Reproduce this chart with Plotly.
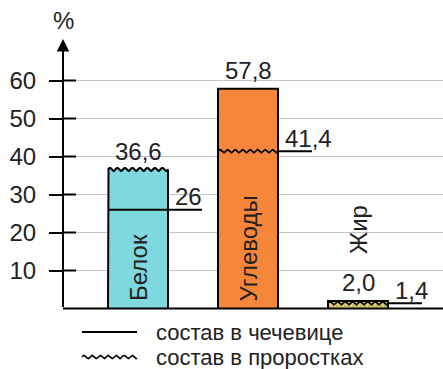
import numpy as np
import plotly.graph_objects as go

# Composition of lentils vs. lentil sprouts, %
categories = ["Белок", "Углеводы", "Жир"]
lentil = [26.0, 57.8, 2.0]        # состав в чечевице (straight line)
sprouts = [36.6, 41.4, 1.4]       # состав в проростках (wavy line)
lentil_decimals = [0, 1, 1]
sprouts_decimals = [1, 1, 1]
y_ticks = [10, 20, 30, 40, 50, 60]
bar_colors = ["#7fd8de", "#f5863a", "#e4d676"]

legend_labels = ["состав в чечевице", "состав в проростках"]

FONT = "Liberation Sans, Arial, sans-serif"
TXT = "#222222"
FS = 24
FS_LEG = 22

# pixel geometry helpers
W, H = 443, 369
ML = 63
PX_X = 110.0      # pixels per category step
PX_Y = 3.8        # pixels per percent
X0_PIX = 138.0    # centre of first bar
BASE_PIX = 308.5  # y pixel of the 0 line

xmin = (ML - X0_PIX) / PX_X
xmax = (W - X0_PIX) / PX_X
ymin = (BASE_PIX - H) / PX_Y
ymax = BASE_PIX / PX_Y

half_w = 30 / PX_X
ext = 34 / PX_X


def fmt(v, d):
    return f"{v:.{d}f}".replace(".", ",")


def wave(x0, x1, level, period_px=7.5, amp_px=1.6):
    xs = np.linspace(x0, x1, 121)
    ys = level + (amp_px / PX_Y) * np.sin(2 * np.pi * (xs - x0) * PX_X / period_px)
    return xs, ys


fig = go.Figure()

for i, cat in enumerate(categories):
    L, S = lentil[i], sprouts[i]
    top = max(L, S)
    xl, xr = i - half_w, i + half_w
    if S >= L:
        wx, wy = wave(xl, xr, top)
        px = [xl, xl] + list(wx) + [xr, xr]
        py = [0, top] + list(wy) + [top, 0]
    else:
        px = [xl, xl, xr, xr]
        py = [0, top, top, 0]
    trace = dict(x=px, y=py, mode="lines", fill="toself",
                 fillcolor=bar_colors[i],
                 line=dict(color="black", width=2),
                 hoverinfo="skip", showlegend=False)
    if cat == "Жир":
        trace["fillpattern"] = dict(shape=".", bgcolor=bar_colors[i],
                                    fgcolor="#9c9040", size=4, solidity=0.35)
    fig.add_trace(go.Scatter(**trace))

    # inner (lower) value line + its extension to the right
    low = min(L, S)
    if S >= L:
        fig.add_trace(go.Scatter(x=[xl, xr + ext], y=[L, L], mode="lines",
                                 line=dict(color="black", width=2),
                                 hoverinfo="skip", showlegend=False))
        low_txt, top_txt = fmt(L, lentil_decimals[i]), fmt(S, sprouts_decimals[i])
    else:
        wx, wy = wave(xl, xr, S)
        fig.add_trace(go.Scatter(x=wx, y=wy, mode="lines",
                                 line=dict(color="black", width=1.6),
                                 hoverinfo="skip", showlegend=False))
        fig.add_trace(go.Scatter(x=[xr, xr + ext], y=[S, S], mode="lines",
                                 line=dict(color="black", width=2),
                                 hoverinfo="skip", showlegend=False))
        low_txt, top_txt = fmt(S, sprouts_decimals[i]), fmt(L, lentil_decimals[i])

    fig.add_annotation(x=i, y=top, text=top_txt, showarrow=False,
                       xanchor="center", yanchor="middle", yshift=18,
                       font=dict(family=FONT, size=FS, color=TXT))
    fig.add_annotation(x=xr, y=low, text=low_txt, showarrow=False,
                       xanchor="left", yanchor="middle", xshift=5, yshift=13,
                       font=dict(family=FONT, size=FS, color=TXT))

    # rotated category name: inside tall bars, above the short one
    inside = top * PX_Y > 110
    fig.add_annotation(x=i, y=0, text=cat, textangle=-90, showarrow=False,
                       xanchor="center", yanchor="bottom",
                       yshift=5 if inside else 52,
                       font=dict(family=FONT, size=FS, color=TXT))

# inner halves of the crossing y ticks
for t in y_ticks:
    fig.add_shape(type="line", x0=xmin, x1=xmin + 13 / PX_X, y0=t, y1=t,
                  line=dict(color="black", width=2))

# baseline
fig.add_shape(type="line", x0=xmin, x1=xmax, y0=0, y1=0,
              line=dict(color="black", width=2))

# y axis with arrow
fig.add_annotation(x=xmin, y=(BASE_PIX - 39) / PX_Y, ax=xmin, ay=0,
                   xref="x", yref="y", axref="x", ayref="y", text="",
                   showarrow=True, arrowhead=2, arrowsize=1.25,
                   arrowwidth=2, arrowcolor="black", standoff=0)
fig.add_annotation(x=xmin, y=(BASE_PIX - 20) / PX_Y, text="%", showarrow=False,
                   xanchor="center", yanchor="middle",
                   font=dict(family=FONT, size=FS, color=TXT))

# legend
leg_x0, leg_x1 = (82 - X0_PIX) / PX_X, (137 - X0_PIX) / PX_X
leg_y = [(BASE_PIX - 332) / PX_Y, (BASE_PIX - 357) / PX_Y]
fig.add_trace(go.Scatter(x=[leg_x0, leg_x1], y=[leg_y[0]] * 2, mode="lines",
                         line=dict(color="black", width=2),
                         hoverinfo="skip", showlegend=False))
wx, wy = wave(leg_x0, leg_x1, leg_y[1], period_px=8, amp_px=1.6)
fig.add_trace(go.Scatter(x=wx, y=wy, mode="lines",
                         line=dict(color="black", width=1.6),
                         hoverinfo="skip", showlegend=False))
for yy, lab in zip(leg_y, legend_labels):
    fig.add_annotation(x=(155 - X0_PIX) / PX_X, y=yy, text=lab, showarrow=False,
                       xanchor="left", yanchor="middle", borderpad=0,
                       font=dict(family=FONT, size=FS_LEG, color=TXT))

fig.update_layout(
    width=W, height=H,
    margin=dict(l=ML, r=0, t=0, b=0, pad=0),
    paper_bgcolor="white", plot_bgcolor="white",
    showlegend=False,
    xaxis=dict(range=[xmin, xmax], showgrid=False, zeroline=False,
               showticklabels=False, showline=False, fixedrange=True),
    yaxis=dict(range=[ymin, ymax], tickvals=y_ticks, showgrid=True,
               gridcolor="#c4c4c4", gridwidth=1, zeroline=False,
               showline=False, ticks="outside", ticklen=13, tickwidth=2,
               tickcolor="black", ticklabelstandoff=8,
               tickfont=dict(family=FONT, size=FS, color=TXT),
               fixedrange=True),
)

fig.write_html("out.html")
